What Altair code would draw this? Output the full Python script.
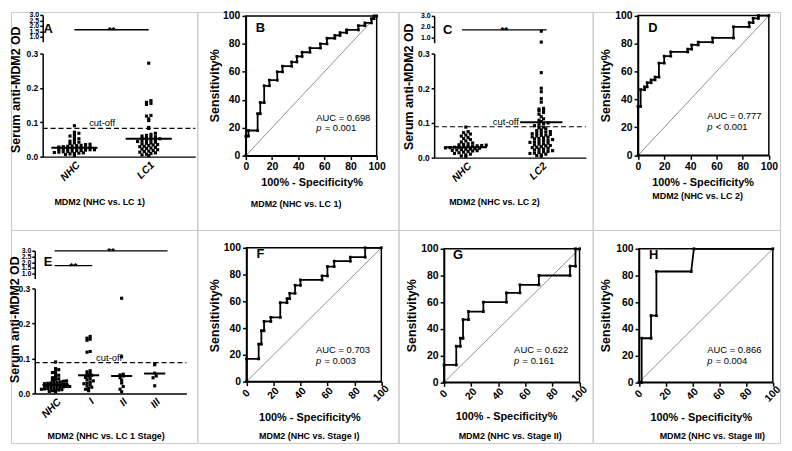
import altair as alt
import pandas as pd

FONT = "Liberation Sans"
GRID = "#c8c8c8"

# ---------------- values ----------------
A_CATS = ["NHC", "LC1"]
A_NHC = [0.004, 0.006, 0.008, 0.009, 0.010, 0.011, 0.012, 0.013, 0.014, 0.015,
         0.016, 0.017, 0.018, 0.019, 0.020, 0.020, 0.021, 0.022, 0.023, 0.024,
         0.025, 0.025, 0.026, 0.027, 0.028, 0.029, 0.030, 0.031, 0.032, 0.033,
         0.035, 0.036, 0.038, 0.040, 0.042, 0.045, 0.048, 0.052, 0.055, 0.060,
         0.063, 0.068, 0.071, 0.090]
A_LC1 = [0.003, 0.005, 0.007, 0.009, 0.011, 0.013, 0.015, 0.016, 0.018, 0.020,
         0.022, 0.024, 0.025, 0.027, 0.029, 0.030, 0.032, 0.034, 0.035, 0.037,
         0.039, 0.040, 0.042, 0.044, 0.045, 0.047, 0.048, 0.050, 0.052, 0.053,
         0.055, 0.057, 0.058, 0.060, 0.062, 0.065, 0.068, 0.082, 0.085, 0.105,
         0.110, 0.118, 0.120, 0.152, 0.155, 0.158, 0.163, 0.272]
A_MEDIANS = [0.026, 0.052]
A_CUTOFF = 0.082
A_SIG_X1 = [0.0]
A_SIG_X2 = [1.0]
A_SIG_Y = [1.64]
A_TOP_TICKS = [1.0, 1.5, 2.0, 2.5, 3.0]

C_CATS = ["NHC", "LC2"]
C_NHC = [0.003, 0.005, 0.008, 0.010, 0.012, 0.014, 0.016, 0.018, 0.019, 0.020,
         0.021, 0.022, 0.023, 0.024, 0.025, 0.026, 0.027, 0.028, 0.029, 0.030,
         0.030, 0.031, 0.032, 0.033, 0.034, 0.035, 0.036, 0.037, 0.038, 0.040,
         0.042, 0.045, 0.048, 0.052, 0.055, 0.058, 0.062, 0.065, 0.068, 0.072,
         0.075, 0.088]
C_LC2 = [0.004, 0.006, 0.008, 0.010, 0.012, 0.013, 0.015, 0.017, 0.018, 0.020,
         0.022, 0.024, 0.025, 0.027, 0.029, 0.030, 0.032, 0.034, 0.035, 0.037,
         0.039, 0.040, 0.042, 0.044, 0.045, 0.047, 0.049, 0.050, 0.052, 0.054,
         0.055, 0.057, 0.059, 0.060, 0.062, 0.064, 0.065, 0.067, 0.069, 0.070,
         0.072, 0.074, 0.075, 0.078, 0.080, 0.083, 0.086, 0.088, 0.092, 0.095,
         0.098, 0.100, 0.104, 0.108, 0.112, 0.118, 0.125, 0.130, 0.135, 0.138,
         0.140, 0.142, 0.160, 0.170, 0.190, 0.200, 0.245, 0.600, 1.600]
C_MEDIANS = [0.030, 0.102]
C_CUTOFF = 0.089
C_SIG_X1 = [-0.05]
C_SIG_X2 = [1.07]
C_SIG_Y = [1.73]
C_TOP_TICKS = [1.0, 2.0, 3.0]

E_CATS = ["NHC", "I", "II", "III"]
E_NHC = A_NHC
E_I = [0.008, 0.012, 0.015, 0.018, 0.022, 0.025, 0.028, 0.030, 0.033, 0.036,
       0.040, 0.043, 0.046, 0.050, 0.052, 0.055, 0.058, 0.062, 0.065, 0.118,
       0.120, 0.152, 0.155, 0.158, 0.163]
E_II = [0.005, 0.012, 0.020, 0.030, 0.038, 0.045, 0.050, 0.053, 0.055, 0.105, 0.272]
E_III = [0.022, 0.045, 0.050, 0.058, 0.082, 0.085]
E_MEDIANS = [0.025, 0.052, 0.050, 0.057]
E_CUTOFF = 0.088
E_SIG_X1 = [-0.03, -0.03]
E_SIG_X2 = [1.11, 3.39]
E_SIG_Y = [1.70, 3.0]
E_TOP_TICKS = [1.0, 1.5, 2.0, 2.5, 3.0]

ROC_TICKS = [0, 20, 40, 60, 80, 100]
B_FPR = [0, 0, 2, 2, 9, 9, 11, 11, 14, 14, 18, 18, 24, 24, 28, 28, 35, 35, 39, 39, 43, 43,
         49, 49, 57, 57, 62, 62, 68, 68, 72, 72, 77, 77, 86, 86, 91, 91, 96, 96, 98, 98, 100]
B_TPR = [0, 14, 14, 18, 18, 30, 30, 38, 38, 50, 50, 54, 54, 60, 60, 64, 64, 67, 67, 71, 71,
         74, 74, 77, 77, 80, 80, 84, 84, 86, 86, 88, 88, 90, 90, 93, 93, 95, 95, 98, 98, 100, 100]
D_FPR = [0, 0, 2, 2, 5, 5, 7, 7, 10, 10, 13, 13, 16, 16, 20, 20, 25, 25, 38, 38, 41, 41,
         46, 46, 57, 57, 73, 73, 85, 85, 88, 88, 92, 92, 100]
D_TPR = [0, 35, 35, 47, 47, 49, 49, 52, 52, 54, 54, 56, 56, 66, 66, 71, 71, 74, 74, 76, 76,
         79, 79, 81, 81, 84, 84, 92, 92, 95, 95, 98, 98, 100, 100]
F_FPR = [0, 0, 9, 9, 11, 11, 13, 13, 18, 18, 25, 25, 30, 30, 32, 32, 36, 36, 40, 40, 56, 56,
         60, 60, 65, 65, 77, 77, 88, 88, 100]
F_TPR = [0, 17, 17, 28, 28, 38, 38, 45, 45, 48, 48, 59, 59, 62, 62, 66, 66, 72, 72, 76, 76,
         79, 79, 86, 86, 90, 90, 93, 93, 100, 100]
G_FPR = [0, 0, 9, 9, 12, 12, 14, 14, 18, 18, 29, 29, 46, 46, 56, 56, 70, 70, 93, 93, 97, 97, 100]
G_TPR = [0, 13, 13, 27, 27, 33, 33, 47, 47, 53, 53, 60, 60, 67, 67, 73, 73, 80, 80, 87, 87, 100, 100]
H_FPR = [0, 2, 2, 9, 9, 13, 13, 39, 41, 100]
H_TPR = [0, 0, 33, 33, 50, 50, 83, 83, 100, 100]

AUC_TEXT = {"B": "AUC = 0.698", "D": "AUC = 0.777", "F": "AUC = 0.703",
            "G": "AUC = 0.622", "H": "AUC = 0.866"}
P_TEXT = {"B": "= 0.001", "D": "< 0.001", "F": "= 0.003", "G": "= 0.161", "H": "= 0.004"}
SUBTITLES = {"A": "MDM2 (NHC vs. LC 1)", "B": "MDM2 (NHC vs. LC 1)",
             "C": "MDM2 (NHC vs. LC 2)", "D": "MDM2 (NHC vs. LC 2)",
             "E": "MDM2 (NHC vs. LC 1 Stage)", "F": "MDM2 (NHC vs. Stage I)",
             "G": "MDM2 (NHC vs. Stage II)", "H": "MDM2 (NHC vs. Stage III)"}


def swarm(values, pos, bin_h, dx):
    rows = {}
    for v in sorted(values):
        rows.setdefault(int(round(v / bin_h)), []).append(v)
    xs, ys = [], []
    for vs in rows.values():
        n = len(vs)
        for i, v in enumerate(vs):
            xs.append(pos + (i - (n - 1) / 2) * dx)
            ys.append(v)
    return xs, ys


def sub_title(key, g):
    return alt.TitleParams(text=SUBTITLES[key], orient="bottom", anchor="middle", frame="group",
                           baseline="middle", offset=g["sty"] - g["h"], dx=g["stx"] - g["w"] / 2,
                           fontSize=9, fontWeight="bold", font=FONT, color="black")


def scatter_panel(key, cats, groups, shapes, medians, half, cutoff, sx1, sx2, sy,
                  top_ticks, g):
    xs = alt.Scale(domain=g["xd"], range=g["xr"], nice=False, zero=False)
    yb = alt.Scale(domain=[0, 0.3], range=g["ybr"], nice=False, zero=False)
    yt = alt.Scale(domain=g["ytd"], range=g["ytr"], nice=False, zero=False)
    names = ",".join("'" + c + "'" for c in cats)
    xaxis = alt.Axis(orient="bottom", offset=g["ybr"][0] - g["h"], values=list(range(len(cats))),
                     labelExpr="[" + names + "][round(datum.value)]", labelAngle=315,
                     labelAlign="right", labelBaseline="top", labelPadding=3,
                     labelFontStyle="italic", labelFontSize=10.5, ticks=False, title=None)
    yb_axis = alt.Axis(orient="left", offset=-g["xr"][0], values=[0, 0.1, 0.2, 0.3],
                       format=".1f", labelFontSize=8.5, tickSize=3,
                       title="Serum anti-MDM2 OD", titleX=g["ytx"] - g["xr"][0],
                       titleY=g["yty"], titleAngle=270, titleAlign="center",
                       titleBaseline="middle", titleFontSize=12.5)
    yt_axis = alt.Axis(orient="left", offset=-g["xr"][0], values=top_ticks, format=".1f",
                       labelFontSize=7, tickSize=3, labelPadding=1, title=None)

    px, py, pg = [], [], []
    for i, (c, vals) in enumerate(zip(cats, groups)):
        xx, yy = swarm(vals, i, g["bin"], g["dx"])
        px += xx
        py += yy
        pg += [c] * len(xx)
    pts = pd.DataFrame({"x": px, "y": py, "grp": pg})
    shape_enc = alt.Shape("grp:N", scale=alt.Scale(domain=cats, range=shapes), legend=None)

    layers = []
    bot = pts[pts.y <= 0.3]
    layers.append(alt.Chart(bot).mark_point(filled=True, size=10, color="black", opacity=1,
                                            strokeWidth=0).encode(
        x=alt.X("x:Q", scale=xs, axis=xaxis),
        y=alt.Y("y:Q", scale=yb, axis=yb_axis),
        shape=shape_enc))

    sig = pd.DataFrame({"x1": sx1, "x2": sx2, "y": sy})
    sig["xm"] = (sig.x1 + sig.x2) / 2
    layers.append(alt.Chart(sig).mark_rule(color="black", strokeWidth=1.3).encode(
        x=alt.X("x1:Q", scale=xs, axis=xaxis), x2="x2:Q",
        y=alt.Y("y:Q", scale=yt, axis=yt_axis)))
    layers.append(alt.Chart(sig).mark_text(text="**", fontSize=10, fontWeight="bold",
                                           baseline="alphabetic", dy=3, color="black").encode(
        x=alt.X("xm:Q", scale=xs, axis=xaxis),
        y=alt.Y("y:Q", scale=yt, axis=None)))

    top = pts[pts.y > 0.3]
    if len(top):
        layers.append(alt.Chart(top).mark_point(filled=True, size=10, color="black", opacity=1,
                                                strokeWidth=0).encode(
            x=alt.X("x:Q", scale=xs, axis=xaxis),
            y=alt.Y("y:Q", scale=yt, axis=None),
            shape=shape_enc))

    let = pd.DataFrame({"x": [g["letter"][0]], "y": [g["letter"][1]], "t": [key]})
    layers.append(alt.Chart(let).mark_text(fontSize=13, fontWeight="bold", align="center",
                                           baseline="middle", color="black").encode(
        x=alt.X("x:Q", scale=xs, axis=xaxis),
        y=alt.Y("y:Q", scale=yt, axis=None), text="t:N"))

    med = pd.DataFrame({"c": list(range(len(cats))), "y": medians, "hw": half})
    med["x1"] = med.c - med.hw
    med["x2"] = med.c + med.hw
    layers.append(alt.Chart(med).mark_rule(color="black", strokeWidth=2).encode(
        x=alt.X("x1:Q", scale=xs, axis=xaxis), x2="x2:Q",
        y=alt.Y("y:Q", scale=yb, axis=None)))

    cut = pd.DataFrame({"x1": [g["xd"][0]], "x2": [g["xd"][1]], "y": [cutoff]})
    layers.append(alt.Chart(cut).mark_rule(color="black", strokeWidth=1.2,
                                           strokeDash=[5, 3]).encode(
        x=alt.X("x1:Q", scale=xs, axis=xaxis), x2="x2:Q",
        y=alt.Y("y:Q", scale=yb, axis=None)))
    cl = pd.DataFrame({"x": [g["cut"][0]], "y": [g["cut"][1]], "t": ["cut-off"]})
    layers.append(alt.Chart(cl).mark_text(fontSize=9.5, align="center", baseline="middle",
                                          color="black").encode(
        x=alt.X("x:Q", scale=xs, axis=xaxis),
        y=alt.Y("y:Q", scale=yb, axis=None), text="t:N"))

    return alt.layer(*layers).resolve_scale(y="independent").properties(
        width=g["w"], height=g["h"], title=sub_title(key, g))


def roc_panel(key, fpr, tpr, g, rotate):
    xs = alt.Scale(domain=[ROC_TICKS[0], ROC_TICKS[-1]], range=g["xr"], nice=False, zero=False)
    ys = alt.Scale(domain=[ROC_TICKS[0], ROC_TICKS[-1]], range=g["yr"], nice=False, zero=False)
    xkw = dict(orient="bottom", offset=g["yr"][0] - g["h"], values=ROC_TICKS,
               labelBaseline="top", labelPadding=2, labelAngle=0, labelAlign="center",
               title="100%  - Specificity%", titleX=g["xtx"], titleY=g["xty"],
               titleAlign="center", titleBaseline="middle", titleFontSize=11)
    if rotate:
        xkw.update(labels=False)
    xaxis = alt.Axis(**xkw)
    yaxis = alt.Axis(orient="left", offset=-g["xr"][0], values=ROC_TICKS,
                     title="Sensitivity%", titleX=g["ytx"] - g["xr"][0], titleY=g["yty"],
                     titleAngle=270, titleAlign="center", titleBaseline="middle",
                     titleFontSize=12.5)
    X = lambda f: alt.X(f, scale=xs, axis=xaxis)
    Y = lambda f: alt.Y(f, scale=ys, axis=yaxis)

    frame = pd.DataFrame({"fpr": [ROC_TICKS[0]], "fpr2": [ROC_TICKS[-1]],
                          "tpr": [ROC_TICKS[0]], "tpr2": [ROC_TICKS[-1]]})
    diag = pd.DataFrame({"fpr": [ROC_TICKS[0], ROC_TICKS[-1]],
                         "tpr": [ROC_TICKS[0], ROC_TICKS[-1]]})
    curve = pd.DataFrame({"fpr": fpr, "tpr": tpr, "i": list(range(len(fpr)))})
    let = pd.DataFrame({"fpr": [g["letter"][0]], "tpr": [g["letter"][1]], "t": [key]})
    auc = pd.DataFrame({"fpr": [g["auc"][0]], "tpr": [g["auc"][1]], "t": [AUC_TEXT[key]]})
    pp = pd.DataFrame({"fpr": [g["auc"][0]], "tpr": [g["auc"][2]], "t": ["p"]})
    pv = pd.DataFrame({"fpr": [g["auc"][0]], "tpr": [g["auc"][2]], "t": [P_TEXT[key]]})

    layers = [
        alt.Chart(frame).mark_rect(fillOpacity=0, stroke="black", strokeWidth=1.5).encode(
            x=X("fpr:Q"), x2="fpr2:Q", y=Y("tpr:Q"), y2="tpr2:Q"),
        alt.Chart(diag).mark_line(color="#444444", strokeWidth=0.6).encode(
            x=X("fpr:Q"), y=Y("tpr:Q")),
        alt.Chart(curve).mark_line(color="black", strokeWidth=1.8).encode(
            x=X("fpr:Q"), y=Y("tpr:Q"), order="i:Q"),
        alt.Chart(curve).mark_point(filled=True, shape="square", size=8, color="black",
                                    opacity=1, strokeWidth=0).encode(
            x=X("fpr:Q"), y=Y("tpr:Q")),
        alt.Chart(let).mark_text(fontSize=13, fontWeight="bold", align="left",
                                 baseline="middle", color="black").encode(
            x=X("fpr:Q"), y=Y("tpr:Q"), text="t:N"),
        alt.Chart(auc).mark_text(fontSize=9.5, align="left", baseline="middle",
                                 color="black").encode(
            x=X("fpr:Q"), y=Y("tpr:Q"), text="t:N"),
        alt.Chart(pp).mark_text(fontSize=9.5, fontStyle="italic", align="left",
                                baseline="middle", color="black").encode(
            x=X("fpr:Q"), y=Y("tpr:Q"), text="t:N"),
        alt.Chart(pv).mark_text(fontSize=9.5, align="left", baseline="middle", dx=8.5,
                                color="black").encode(
            x=X("fpr:Q"), y=Y("tpr:Q"), text="t:N"),
    ]
    if rotate:
        tl = pd.DataFrame({"fpr": ROC_TICKS, "tpr": [ROC_TICKS[0]] * len(ROC_TICKS),
                           "t": [str(v) for v in ROC_TICKS]})
        layers.append(alt.Chart(tl).mark_text(fontSize=10.5, fontWeight="bold", angle=315,
                                              align="center", baseline="middle",
                                              dx=-8.5, dy=8.5, color="black").encode(
            x=X("fpr:Q"), y=Y("tpr:Q"), text="t:N"))
    return alt.layer(*layers).properties(width=g["w"], height=g["h"], title=sub_title(key, g))


# ---------------- layout (cell-relative pixels) ----------------
GA = dict(w=188, h=220, xd=[-0.427, 1.627], xr=[32, 186], ybr=[146, 42], ytd=[0.55, 3.0],
          ytr=[30, 3], ytx=5, yty=78, stx=89.5, sty=192, bin=0.008, dx=0.06,
          letter=(-0.353, 1.73), cut=(0.373, 0.098))
GC = dict(w=196, h=220, xd=[-0.42, 1.59], xr=[36, 189], ybr=[147, 42], ytd=[0.55, 3.0],
          ytr=[31, 4], ytx=10, yty=75, stx=96.8, sty=192, bin=0.008, dx=0.06,
          letter=(-0.24, 1.73), cut=(0.53, 0.103))
GE = dict(w=188, h=215, xd=[-0.63, 3.96], xr=[24, 177], ybr=[165, 59], ytd=[0.57, 3.0],
          ytr=[49, 21], ytx=4, yty=90, stx=96, sty=207.7, bin=0.008, dx=0.095,
          letter=(-0.225, 2.05), cut=(1.62, 0.102))

GB = dict(w=203, h=220, xr=[49, 181], yr=[145, 4], xtx=115.3, xty=27, ytx=17, yty=74,
          stx=99.7, sty=194, letter=(7.6, 91), auc=(53.8, 27, 19.5))
GD = dict(w=189, h=220, xr=[45.7, 177.7], yr=[144.7, 3.7], xtx=110.8, xty=27.3, ytx=13.3,
          yty=74, stx=105.8, sty=185.3, letter=(7.8, 91), auc=(53, 28, 20.5))
GF = dict(w=203, h=215, xr=[49.7, 185.7], yr=[153, 18], xtx=113, xty=36.7, ytx=17, yty=86,
          stx=113, sty=207.7, letter=(7.4, 95), auc=(51.5, 23.5, 15.7))
GG = dict(w=196, h=215, xr=[46, 182.7], yr=[153.7, 19], xtx=108.5, xty=35, ytx=12.7, yty=86,
          stx=112.7, sty=207.7, letter=(6.6, 95), auc=(51.7, 24, 16.2))
GH = dict(w=189, h=215, xr=[46.7, 181.7], yr=[153.7, 19], xtx=109, xty=36, ytx=13.3, yty=86,
          stx=120.7, sty=207.7, letter=(7.4, 95), auc=(51, 24, 16.2))

pA = scatter_panel("A", A_CATS, [A_NHC, A_LC1], ["square", "square"], A_MEDIANS,
                   [0.31, 0.31], A_CUTOFF, A_SIG_X1, A_SIG_X2, A_SIG_Y, A_TOP_TICKS, GA)
pC = scatter_panel("C", C_CATS, [C_NHC, C_LC2], ["square", "square"], C_MEDIANS,
                   [0.28, 0.28], C_CUTOFF, C_SIG_X1, C_SIG_X2, C_SIG_Y, C_TOP_TICKS, GC)
pE = scatter_panel("E", E_CATS, [E_NHC, E_I, E_II, E_III],
                   ["square", "square", "triangle-up", "triangle-down"], E_MEDIANS,
                   [0.4, 0.32, 0.32, 0.32], E_CUTOFF, E_SIG_X1, E_SIG_X2, E_SIG_Y,
                   E_TOP_TICKS, GE)
pB = roc_panel("B", B_FPR, B_TPR, GB, False)
pD = roc_panel("D", D_FPR, D_TPR, GD, False)
pF = roc_panel("F", F_FPR, F_TPR, GF, True)
pG = roc_panel("G", G_FPR, G_TPR, GG, True)
pH = roc_panel("H", H_FPR, H_TPR, GH, True)

chart = alt.concat(pA, pB, pC, pD, pE, pF, pG, pH, columns=4, spacing=0,
                   bounds="flush").properties(
    padding=0, background="white"
).configure(font=FONT).configure_view(
    stroke=GRID, strokeWidth=1
).configure_axis(
    labelFont=FONT, titleFont=FONT, labelColor="black", titleColor="black",
    domainColor="black", tickColor="black", domainWidth=1.5, tickWidth=1.5, tickSize=4,
    grid=False, labelFontWeight="bold", titleFontWeight="bold", labelFlush=False,
    labelOverlap=False, labelFontSize=10.5, titlePadding=0
).configure_text(font=FONT)

chart.save("out.html", embed_options={"renderer": "svg", "actions": False})
